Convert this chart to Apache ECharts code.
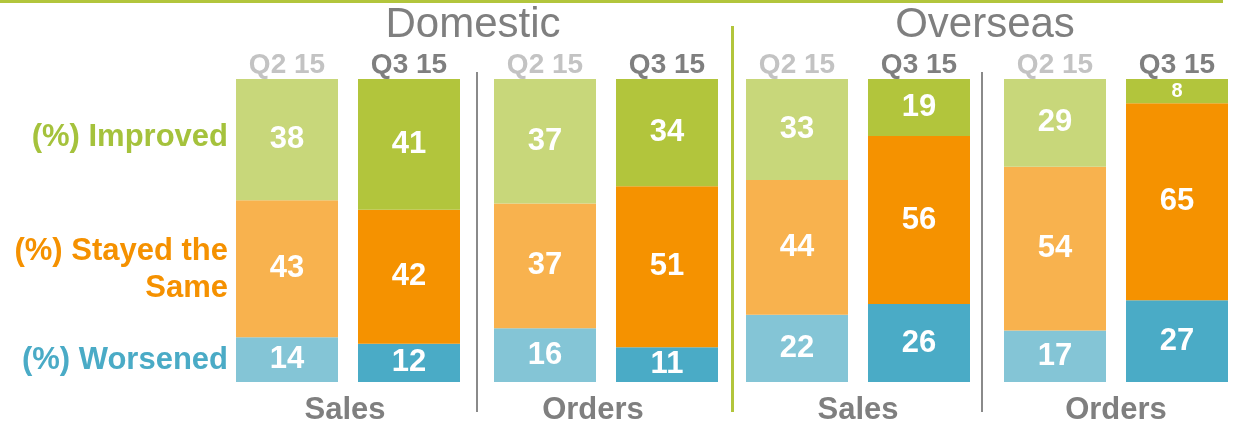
<!DOCTYPE html>
<html>
<head>
<meta charset="utf-8">
<script src="https://cdn.jsdelivr.net/npm/echarts@6/dist/echarts.min.js"></script>
<style>
  html, body { margin: 0; padding: 0; background: #fff; }
  #chart { width: 1238px; height: 427px; }
</style>
</head>
<body>
<div id="chart"></div>
<script>
// data, one entry per bar: Domestic Sales Q2/Q3, Domestic Orders Q2/Q3, Overseas Sales Q2/Q3, Overseas Orders Q2/Q3
var quarters = ["Q2 15", "Q3 15"];
var groups = ["Sales", "Orders", "Sales", "Orders"];
var regions = ["Domestic", "Overseas"];
var improved = [38, 41, 37, 34, 33, 19, 29, 8];
var stayed = [43, 42, 37, 51, 44, 56, 54, 65];
var worsened = [14, 12, 16, 11, 22, 26, 17, 27];

var font = '"Liberation Sans", Arial, sans-serif';
var gray = "#7f7f7f";
var colors = {
  improved: ["#c8d77a", "#b2c53c"],
  stayed: ["#f8b24e", "#f59200"],
  worsened: ["#84c5d6", "#4aabc6"]
};

// left edge of each pair's grid
var gridLeft = [226, 484, 736, 994];
var gridWidth = 244;

var chart = echarts.init(document.getElementById("chart"));

var grids = [], xAxes = [], yAxes = [], series = [];

function item(vals, i, key) {
  var total = improved[i] + stayed[i] + worsened[i];
  var v = vals[i];
  return {
    value: v / total * 100,
    raw: v,
    itemStyle: { color: colors[key][i % 2] },
    label: { fontSize: v < 10 ? 20 : 31 }
  };
}

for (var g = 0; g < 4; g++) {
  grids.push({ left: gridLeft[g], width: gridWidth, top: 79, bottom: 45 });
  xAxes.push({
    type: "category",
    gridIndex: g,
    position: "top",
    data: quarters,
    axisLine: { show: false },
    axisTick: { show: false },
    axisLabel: {
      margin: 0,
      fontFamily: font,
      fontSize: 28,
      fontWeight: "bold",
      color: function (val, idx) { return idx === 0 ? "#c3c3c3" : gray; }
    }
  });
  yAxes.push({ type: "value", gridIndex: g, min: 0, max: 100, show: false });

  [["worsened", worsened], ["stayed", stayed], ["improved", improved]].forEach(function (s) {
    series.push({
      name: s[0],
      type: "bar",
      xAxisIndex: g,
      yAxisIndex: g,
      stack: "g" + g,
      barWidth: 102,
      data: [item(s[1], g * 2, s[0]), item(s[1], g * 2 + 1, s[0])],
      label: {
        show: true,
        position: "inside",
        color: "#fff",
        fontFamily: font,
        fontWeight: "bold",
        formatter: function (p) { return p.data.raw; }
      }
    });
  });
}

function txt(x, y, text, size, color, weight, align) {
  return {
    type: "text", x: x, y: y,
    style: {
      text: text, fill: color, font: (weight || "normal") + " " + size + "px " + font,
      align: align || "center", verticalAlign: "middle"
    }
  };
}

var graphics = [
  { type: "rect", shape: { x: 0, y: 0, width: 1223, height: 3 }, style: { fill: "#b2c53c" } },
  { type: "rect", shape: { x: 731, y: 26, width: 3, height: 386 }, style: { fill: "#b2c53c" } },
  { type: "rect", shape: { x: 476, y: 72, width: 2, height: 340 }, style: { fill: "#8a8a8a" } },
  { type: "rect", shape: { x: 981, y: 72, width: 2, height: 340 }, style: { fill: "#8a8a8a" } },
  txt(473, 25, regions[0], 42, gray),
  txt(985, 25, regions[1], 42, gray),
  txt(228, 137, "(%) Improved", 31, "#a5c23c", "bold", "right"),
  txt(228, 251, "(%) Stayed the", 31, "#f59100", "bold", "right"),
  txt(228, 288, "Same", 31, "#f59100", "bold", "right"),
  txt(228, 360, "(%) Worsened", 31, "#4aabc6", "bold", "right")
];
var groupCenters = [345, 593, 858, 1116];
groups.forEach(function (name, i) {
  graphics.push(txt(groupCenters[i], 410, name, 31, gray, "bold"));
});

chart.setOption({
  animation: false,
  grid: grids,
  xAxis: xAxes,
  yAxis: yAxes,
  series: series,
  graphic: graphics
});
</script>
</body>
</html>
